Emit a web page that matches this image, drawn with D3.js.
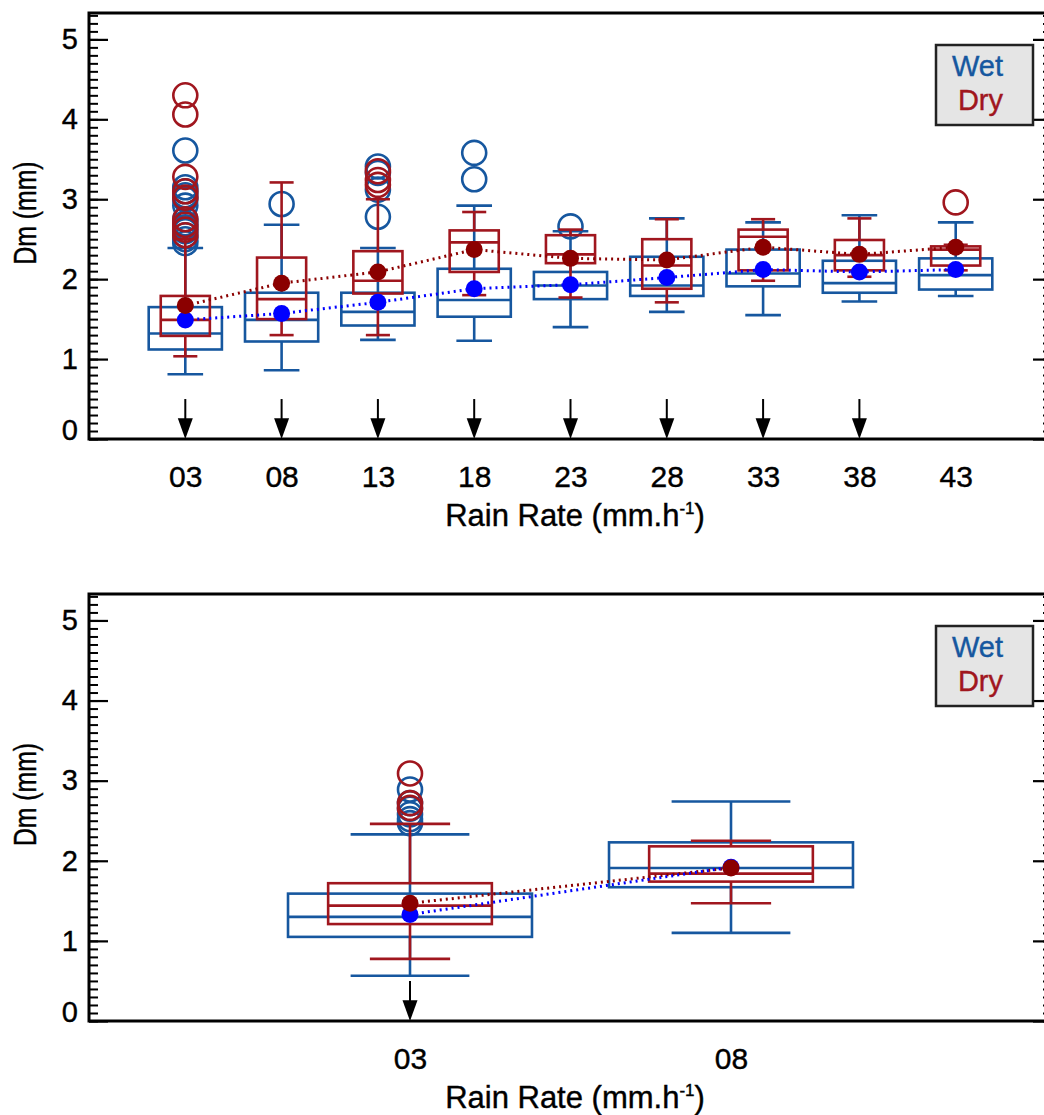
<!DOCTYPE html>
<html>
<head>
<meta charset="utf-8">
<script src="https://cdn.jsdelivr.net/npm/d3@7"></script>
<style>
  body { margin: 0; background: #fff; }
  text { font-family: "Liberation Sans", Arial, sans-serif; stroke-width: 0.4px; }
</style>
</head>
<body>
<div id="chart"></div>
<script>
// ---- top panel (all rain rates) ----
const topCategories = ["03", "08", "13", "18", "23", "28", "33", "38", "43"];
const topArrows = ["03", "08", "13", "18", "23", "28", "33", "38"];

const topWetLow = [0.81, 0.86, 1.24, 1.23, 1.40, 1.59, 1.55, 1.72, 1.79];
const topWetQ1 = [1.12, 1.22, 1.42, 1.53, 1.75, 1.79, 1.91, 1.83, 1.87];
const topWetMed = [1.32, 1.49, 1.59, 1.74, 1.92, 1.92, 2.07, 1.95, 2.05];
const topWetQ3 = [1.65, 1.83, 1.83, 2.13, 2.09, 2.28, 2.37, 2.23, 2.26];
const topWetHigh = [2.39, 2.68, 2.39, 2.92, 2.60, 2.76, 2.71, 2.80, 2.71];
const topWetMean = [1.49, 1.57, 1.71, 1.88, 1.93, 2.02, 2.12, 2.09, 2.12];
const topWetOutliers = [
  [3.61, 3.15, 3.10, 3.05, 3.00, 2.92, 2.75, 2.70, 2.65, 2.60, 2.55, 2.50, 2.45],
  [2.94],
  [3.41, 3.33, 3.12, 2.78],
  [3.58, 3.25],
  [2.66],
  [], [], [], []
];

const topDryLow = [1.035, 1.30, 1.30, 1.80, 1.77, 1.71, 1.98, 2.03, 2.11];
const topDryQ1 = [1.29, 1.50, 1.82, 2.09, 2.20, 1.88, 2.11, 2.11, 2.17];
const topDryMed = [1.49, 1.75, 1.98, 2.46, 2.31, 2.17, 2.53, 2.30, 2.37];
const topDryQ3 = [1.79, 2.27, 2.35, 2.61, 2.55, 2.50, 2.62, 2.49, 2.41];
const topDryHigh = [2.50, 3.21, 3.00, 2.84, 2.62, 2.75, 2.75, 2.76, 2.43];
const topDryMean = [1.67, 1.95, 2.09, 2.37, 2.26, 2.24, 2.40, 2.31, 2.40];
const topDryOutliers = [
  [4.30, 4.06, 3.28, 3.10, 3.02, 2.75, 2.68, 2.62, 2.55],
  [],
  [3.35, 3.24, 3.18],
  [], [], [], [], [],
  [2.96]
];

// ---- bottom panel ----
const botCategories = ["03", "08"];
const botArrows = ["03"];

const botWetLow = [0.565, 1.10];
const botWetQ1 = [1.05, 1.67];
const botWetMed = [1.30, 1.91];
const botWetQ3 = [1.59, 2.23];
const botWetHigh = [2.33, 2.74];
const botWetMean = [1.33, 1.92];
const botWetOutliers = [[2.89, 2.72, 2.65, 2.58, 2.52, 2.47], []];

const botDryLow = [0.775, 1.47];
const botDryQ1 = [1.21, 1.74];
const botDryMed = [1.44, 1.84];
const botDryQ3 = [1.72, 2.18];
const botDryHigh = [2.46, 2.25];
const botDryMean = [1.47, 1.91];
const botDryOutliers = [[3.09, 2.72, 2.66], []];

const yTicks = [0, 1, 2, 3, 4, 5];
const yMinor = d3.range(54).map((i) => i / 10);

const wetColor = "#16579f";
const dryColor = "#a0161e";
const wetMeanColor = "#0000ff";
const dryMeanColor = "#8b0000";
const left = 89;
const right = 1052;

const svg = d3
  .select("#chart")
  .append("svg")
  .attr("width", 1044)
  .attr("height", 1115);

function series(low, q1, med, q3, high, mean, outliers) {
  return { low, q1, med, q3, high, mean, outliers };
}

function drawSeries(g, x, y, s, color, hw, cw) {
  const idx = d3.range(s.med.length);
  const b = g
    .append("g")
    .attr("fill", "none")
    .attr("stroke", color)
    .attr("stroke-width", 2.6);

  // whiskers
  b.selectAll(".wu")
    .data(idx)
    .join("line")
    .attr("x1", (i) => x(i))
    .attr("x2", (i) => x(i))
    .attr("y1", (i) => y(s.q3[i]))
    .attr("y2", (i) => y(s.high[i]));
  b.selectAll(".wl")
    .data(idx)
    .join("line")
    .attr("x1", (i) => x(i))
    .attr("x2", (i) => x(i))
    .attr("y1", (i) => y(s.q1[i]))
    .attr("y2", (i) => y(s.low[i]));
  // caps
  b.selectAll(".cu")
    .data(idx)
    .join("line")
    .attr("x1", (i) => x(i - cw))
    .attr("x2", (i) => x(i + cw))
    .attr("y1", (i) => y(s.high[i]))
    .attr("y2", (i) => y(s.high[i]));
  b.selectAll(".cl")
    .data(idx)
    .join("line")
    .attr("x1", (i) => x(i - cw))
    .attr("x2", (i) => x(i + cw))
    .attr("y1", (i) => y(s.low[i]))
    .attr("y2", (i) => y(s.low[i]));
  // boxes
  b.selectAll("rect")
    .data(idx)
    .join("rect")
    .attr("x", (i) => x(i - hw))
    .attr("width", (i) => x(i + hw) - x(i - hw))
    .attr("y", (i) => y(s.q3[i]))
    .attr("height", (i) => y(s.q1[i]) - y(s.q3[i]));
  b.selectAll(".med")
    .data(idx)
    .join("line")
    .attr("x1", (i) => x(i - hw))
    .attr("x2", (i) => x(i + hw))
    .attr("y1", (i) => y(s.med[i]))
    .attr("y2", (i) => y(s.med[i]));

  // outliers
  const pts = [];
  s.outliers.forEach((arr, i) => arr.forEach((v) => pts.push({ i, v })));
  b.selectAll("circle")
    .data(pts)
    .join("circle")
    .attr("cx", (d) => x(d.i))
    .attr("cy", (d) => y(d.v))
    .attr("r", 12);
}

function drawMeans(g, x, y, s, meanColor) {
  g.append("path")
    .datum(s.mean)
    .attr("fill", "none")
    .attr("stroke", meanColor)
    .attr("stroke-width", 3)
    .attr("stroke-dasharray", "2,4")
    .attr(
      "d",
      d3
        .line()
        .x((d, i) => x(i))
        .y((d) => y(d))
    );
}

function drawDots(g, x, y, s, meanColor) {
  g.append("g")
    .selectAll("circle")
    .data(s.mean)
    .join("circle")
    .attr("cx", (d, i) => x(i))
    .attr("cy", (d) => y(d))
    .attr("r", 8.5)
    .attr("fill", meanColor);
}

function drawPanel(p) {
  const g = svg.append("g");
  const x = d3
    .scaleLinear()
    .domain([-1, p.categories.length])
    .range([left, right]);
  const y = d3.scaleLinear().domain([0, 5.33]).range([p.y1, p.y0]);

  const styleTicks = (sel, w) => {
    sel.select(".domain").remove();
    sel.selectAll("line").attr("stroke", "#000").attr("stroke-width", w);
  };

  // left axis: minor + major
  g.append("g")
    .attr("transform", `translate(${left},0)`)
    .call(d3.axisLeft(y).tickValues(yMinor).tickSize(-9).tickSizeOuter(0).tickFormat(""))
    .call((s) => styleTicks(s, 2));
  const yAxis = g
    .append("g")
    .attr("transform", `translate(${left},0)`)
    .call(
      d3
        .axisLeft(y)
        .tickValues(yTicks)
        .tickSize(-19)
        .tickSizeOuter(0)
        .tickPadding(11)
        .tickFormat(d3.format("d"))
    )
    .call((s) => styleTicks(s, 2.2));
  yAxis
    .selectAll("text")
    .attr("font-size", 29)
    .attr("font-family", "Liberation Sans, Arial, sans-serif")
    .attr("fill", "#000")
    .attr("stroke", "#000");
  yAxis
    .selectAll(".tick")
    .filter((d) => d === 0)
    .select("text")
    .attr("y", -9);

  // right axis
  g.append("g")
    .attr("transform", `translate(${right},0)`)
    .call(d3.axisRight(y).tickValues(yMinor).tickSize(-9).tickSizeOuter(0).tickFormat(""))
    .call((s) => styleTicks(s, 2));
  g.append("g")
    .attr("transform", `translate(${right},0)`)
    .call(d3.axisRight(y).tickValues(yTicks).tickSize(-19).tickSizeOuter(0).tickFormat(""))
    .call((s) => styleTicks(s, 2.2));

  // x labels
  const xAxis = g
    .append("g")
    .attr("transform", `translate(0,${p.y1})`)
    .call(
      d3
        .axisBottom(x)
        .tickValues(d3.range(p.categories.length))
        .tickFormat((i) => p.categories[i])
        .tickSize(0)
        .tickPadding(27)
    );
  xAxis.select(".domain").remove();
  xAxis
    .selectAll("text")
    .attr("font-size", 30)
    .attr("font-family", "Liberation Sans, Arial, sans-serif")
    .attr("fill", "#000")
    .attr("stroke", "#000");

  // boxes, wet first then dry
  drawSeries(g, x, y, p.wet, wetColor, 0.38, 0.185);
  drawSeries(g, x, y, p.dry, dryColor, 0.255, 0.125);
  drawMeans(g, x, y, p.dry, dryMeanColor);
  drawMeans(g, x, y, p.wet, wetMeanColor);
  drawDots(g, x, y, p.wet, wetMeanColor);
  drawDots(g, x, y, p.dry, dryMeanColor);

  // arrows
  const ai = p.arrows.map((c) => p.categories.indexOf(c));
  g.append("g")
    .selectAll("line")
    .data(ai)
    .join("line")
    .attr("x1", (i) => x(i))
    .attr("x2", (i) => x(i))
    .attr("y1", y(0.5))
    .attr("y2", y(0.25))
    .attr("stroke", "#000")
    .attr("stroke-width", 2);
  g.append("g")
    .selectAll("path")
    .data(ai)
    .join("path")
    .attr("d", (i) => `M${x(i) - 7.5},${y(0.26)}L${x(i) + 7.5},${y(0.26)}L${x(i)},${y(0)}Z`)
    .attr("fill", "#000");

  // frame
  g.append("rect")
    .attr("x", left)
    .attr("y", p.y0)
    .attr("width", right - left)
    .attr("height", p.y1 - p.y0)
    .attr("fill", "none")
    .attr("stroke", "#000")
    .attr("stroke-width", 3);

  // titles
  const t = g
    .append("text")
    .attr("x", 575)
    .attr("y", p.y1 + 87)
    .attr("text-anchor", "middle")
    .attr("font-size", 31)
    .attr("stroke", "#000");
  t.append("tspan").text("Rain Rate (mm.h");
  t.append("tspan").attr("font-size", 17).attr("dy", -12).text("-1");
  t.append("tspan").attr("dy", 12).text(")");

  g.append("text")
    .attr("transform", `translate(36,${(p.y0 + p.y1) / 2 - 13}) rotate(-90)`)
    .attr("text-anchor", "middle")
    .attr("font-size", 31)
    .attr("stroke", "#000")
    .attr("textLength", 103)
    .attr("lengthAdjust", "spacingAndGlyphs")
    .text("Dm (mm)");

  // legend
  g.append("rect")
    .attr("x", 936)
    .attr("y", p.y0 + 32)
    .attr("width", 97)
    .attr("height", 80)
    .attr("fill", "#e5e5e5")
    .attr("stroke", "#222")
    .attr("stroke-width", 2.5);
  g.append("text")
    .attr("x", 1003)
    .attr("y", p.y0 + 63)
    .attr("text-anchor", "end")
    .attr("font-size", 29)
    .attr("fill", wetColor)
    .attr("stroke", wetColor)
    .text("Wet");
  g.append("text")
    .attr("x", 1003)
    .attr("y", p.y0 + 96.5)
    .attr("text-anchor", "end")
    .attr("font-size", 29)
    .attr("fill", dryColor)
    .attr("stroke", dryColor)
    .text("Dry");
}

drawPanel({
  categories: topCategories,
  arrows: topArrows,
  y0: 13,
  y1: 439,
  wet: series(topWetLow, topWetQ1, topWetMed, topWetQ3, topWetHigh, topWetMean, topWetOutliers),
  dry: series(topDryLow, topDryQ1, topDryMed, topDryQ3, topDryHigh, topDryMean, topDryOutliers)
});

drawPanel({
  categories: botCategories,
  arrows: botArrows,
  y0: 594,
  y1: 1021,
  wet: series(botWetLow, botWetQ1, botWetMed, botWetQ3, botWetHigh, botWetMean, botWetOutliers),
  dry: series(botDryLow, botDryQ1, botDryMed, botDryQ3, botDryHigh, botDryMean, botDryOutliers)
});
</script>
</body>
</html>
